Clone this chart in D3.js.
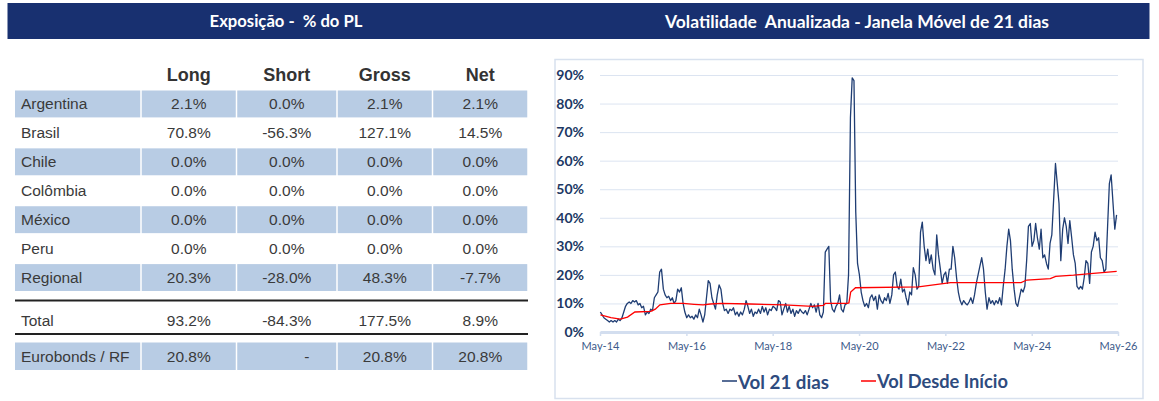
<!DOCTYPE html>
<html><head><meta charset="utf-8">
<script src="https://cdn.jsdelivr.net/npm/d3@7"></script>
<style>body{margin:0;background:#fff;overflow:hidden}</style>
</head><body><svg id="c" width="1159" height="401"></svg>
<script>
// ---------- DATA ----------
const leftTitle = "Exposição -  % do PL";
const rightTitle = "Volatilidade  Anualizada - Janela Móvel de 21 dias";
const tableColumns = ["Long", "Short", "Gross", "Net"];
const countries = ["Argentina", "Brasil", "Chile", "Colômbia", "México", "Peru", "Regional"];
const longVals  = [2.1, 70.8, 0.0, 0.0, 0.0, 0.0, 20.3];
const shortVals = [0.0, -56.3, 0.0, 0.0, 0.0, 0.0, -28.0];
const grossVals = [2.1, 127.1, 0.0, 0.0, 0.0, 0.0, 48.3];
const netVals   = [2.1, 14.5, 0.0, 0.0, 0.0, 0.0, -7.7];
const totalRow  = ["Total", 93.2, -84.3, 177.5, 8.9];
const euroRow   = ["Eurobonds / RF", 20.8, null, 20.8, 20.8];

const seriesNames = ["Vol 21 dias", "Vol Desde Início"];
const xTickYears = [2014, 2016, 2018, 2020, 2022, 2024, 2026];
const yTickValues = [0, 10, 20, 30, 40, 50, 60, 70, 80, 90];
// Vol 21 dias (%), semi-monthly readings starting May 2014
const volStart = "2014-05-04";
const vol21 = [
7,6,5,4.5,4,3.5,4,3.5,4,3.5,
4.5,4,5,7,9,10,10.5,10,11,10.5,
11,9.5,10,8.5,9,6,7,6.5,8,7.5,
12,13,14,21,22,15,13,12,12.5,11,
12,10,11,15,14,15.5,10,7,5,6,
5,5.5,4.5,6,5,8,6,3.5,6,12,
18,17,12,10,8,13,16.5,15,10,7.5,
8,6.5,8,7.5,8.5,6,7,5.5,7,6,
8,11,9,6.5,8,5.5,7,6.5,8,6.5,
9,7,8.5,6,8,7.5,9,8.5,7.5,11,
10.5,6,8,10,7,9,6.5,8,5.5,7.5,
6.5,8,7,6.5,7.5,6,8,10,8.5,9.5,
7,10,6,5,7,28,29,30,11,8,
7,9,10,13,8,7,9.5,10,20,75,
89,88,42,24,20,14,11,9,10,8.5,
12,13,11,12.5,8,13,11,10,12,11,
13.5,10,13,20,21,16,15,18.5,14,15,
12,9.5,14,13,22.5,20,15,16,35,38.5,
30,25,29,24,27,22,20,34,27,22,
17,20,21,17,22,22,30,26,19,14,
11,9.5,11,10,9.5,10.5,12,10,13,17,
20,23,26,22,14,8,12,10,11,9.5,
11,10,12,9.5,16,22,30,36,32,22,
15,10,9,12,15,14,16,25,37,38,
30,32,38,33,29,36,26,27,24,22,
31,34,46,59,52,45,25,36,40,37,
31,39,33,27,24,16,15,16,15,19,
25,24,17,28,30,35,32,33,26,25,
21,22,37,52,55,45,36,41
];
// Vol Desde Início (%)
const volInicioDates = ["2014-05-05","2014-08-01","2014-10-20","2014-12-20","2015-02-20","2015-07-05","2015-08-12","2015-09-20","2015-12-20","2016-04-05","2016-07-05","2016-09-20","2016-11-20","2017-02-20","2017-10-20","2018-08-05","2019-04-05","2019-07-05","2019-07-20","2019-11-20","2020-01-20","2020-02-05","2020-02-20","2020-04-01","2021-09-15","2022-06-15","2024-02-01","2024-03-20","2024-10-05","2024-11-20","2025-04-20","2025-10-05","2026-04-20"];
const volInicio = [6,5,4.5,5.2,7,7.2,8,9.5,10,10,9.7,9.5,9.8,10,9.8,9.5,9,9.3,10,10,10,10.2,14,15.5,15.8,17.3,17.3,18.2,18.7,19.5,19.9,20.5,21.2];

// ---------- DRAW ----------
const svg = d3.select("#c");
const NAVY = "#183070";
const LIGHT = "#B8CCE4";
const TXT = "#3a3a3a";

function fit(sel, w) {
  const cur = sel.node().getComputedTextLength();
  const fs = parseFloat(sel.style("font-size"));
  sel.style("font-size", (fs * w / cur) + "px");
}

// header bar
svg.append("rect").attr("x", 7.5).attr("y", 3).attr("width", 1142).attr("height", 36).attr("fill", NAVY);
const t1 = svg.append("text").attr("x", 286).attr("y", 21).attr("text-anchor", "middle").attr("dominant-baseline", "central")
  .style("white-space", "pre").style("font-family", "Lato").style("font-weight", "bold").style("font-size", "15px").attr("fill", "#fff").text(leftTitle);
fit(t1, 153);
const t2 = svg.append("text").attr("x", 857).attr("y", 21).attr("text-anchor", "middle").attr("dominant-baseline", "central")
  .style("white-space", "pre").style("font-family", "Lato").style("font-weight", "bold").style("font-size", "15px").attr("fill", "#fff").text(rightTitle);
fit(t2, 384);

// ---------- TABLE ----------
const colEdges = [15, 141, 236.5, 337, 432.5, 528];
const gap = 1.5;
const fmt = v => v == null ? "-" : v.toFixed(1) + "%";
const tbl = svg.append("g").style("font-family", "Liberation Sans, Arial, sans-serif");
const colCenter = k => (colEdges[k] + colEdges[k + 1]) / 2;

tableColumns.forEach((c, k) => {
  tbl.append("text").attr("x", colCenter(k + 1)).attr("y", 75).attr("text-anchor", "middle").attr("dominant-baseline", "central")
    .style("font-weight", "bold").style("font-size", "18px").attr("fill", "#333").text(c);
});

const rowY = d3.scaleBand().domain(countries).range([90.5, 291]).paddingInner(0.07);
const colsData = [longVals, shortVals, grossVals, netVals];

function drawRow(label, vals, top, h, filled, dashShift) {
  for (let k = 0; k < 5; k++) {
    if (filled) {
      tbl.append("rect").attr("x", colEdges[k] + (k ? gap / 2 : 0)).attr("y", top)
        .attr("width", colEdges[k + 1] - colEdges[k] - (k ? gap : gap / 2)).attr("height", h).attr("fill", LIGHT);
    }
  }
  tbl.append("text").attr("x", 21).attr("y", top + h / 2).attr("dominant-baseline", "central")
    .style("font-size", "15.5px").attr("fill", TXT).text(label);
  vals.forEach((v, k) => {
    tbl.append("text").attr("x", colCenter(k + 1) + (v == null ? dashShift : 0)).attr("y", top + h / 2)
      .attr("text-anchor", "middle").attr("dominant-baseline", "central")
      .style("font-size", "15.5px").attr("fill", TXT).text(fmt(v));
  });
}
countries.forEach((c, i) => {
  drawRow(c, colsData.map(a => a[i]), rowY(c), rowY.bandwidth(), i % 2 === 0, 0);
});
tbl.append("line").attr("x1", 15).attr("x2", 528).attr("y1", 300.5).attr("y2", 300.5).attr("stroke", "#222").attr("stroke-width", 1.8);
drawRow(totalRow[0], totalRow.slice(1), 306, 28, false, 0);
tbl.append("line").attr("x1", 15).attr("x2", 528).attr("y1", 334).attr("y2", 334).attr("stroke", "#222").attr("stroke-width", 1.8);
drawRow(euroRow[0], euroRow.slice(1), 342.5, 27.5, true, 20);

// ---------- CHART ----------
svg.append("rect").attr("x", 555).attr("y", 59.5).attr("width", 588).attr("height", 339)
  .attr("fill", "#fff").attr("stroke", "#D8E1EE").attr("stroke-width", 1.5);

const parse = d3.timeParse("%Y-%m-%d");
const x = d3.scaleTime().domain([new Date(2014, 4, 1), new Date(2026, 4, 1)]).range([600, 1118]);
const y = d3.scaleLinear().domain([0, 90]).range([332, 75]);

// gridlines
svg.append("g").attr("transform", "translate(600,0)")
  .call(d3.axisLeft(y).tickValues(yTickValues.slice(1)).tickSize(-518).tickFormat(""))
  .call(g => g.select(".domain").remove())
  .call(g => g.selectAll("line").attr("stroke", "#DCE4F1").attr("stroke-width", 1));

// y labels
svg.append("g").attr("transform", "translate(600,0)")
  .call(d3.axisLeft(y).tickValues(yTickValues).tickSize(0).tickPadding(16).tickFormat(d => d + "%"))
  .call(g => g.select(".domain").remove())
  .call(g => g.selectAll("text").style("font-family", "Lato").style("font-weight", "bold").style("font-size", "14px").attr("fill", "#203864"));

// x axis
svg.append("g").attr("transform", "translate(0,332)")
  .call(d3.axisBottom(x).tickValues(xTickYears.map(yr => new Date(yr, 4, 1))).tickSize(4).tickSizeOuter(0).tickPadding(6)
    .tickFormat(d3.timeFormat("%b-%y")))
  .call(g => g.select(".domain").attr("stroke", "#D3DEEF").attr("stroke-width", 3))
  .call(g => g.selectAll(".tick line").attr("stroke", "#D3DEEF").attr("stroke-width", 1.5))
  .call(g => g.selectAll("text").style("font-family", "Lato").style("font-size", "11px").attr("fill", "#3D5A8A"));

// lines
const start = parse(volStart);
const volData = vol21.map((v, i) => ({ d: d3.timeDay.offset(start, Math.round(i * 15.22)), v }));
const inicioData = volInicioDates.map((d, i) => ({ d: parse(d), v: volInicio[i] }));
const line = d3.line().x(p => x(p.d)).y(p => y(p.v));
svg.append("path").datum(volData).attr("d", line).attr("fill", "none").attr("stroke", "#1F3D73").attr("stroke-width", 1.3).attr("stroke-linejoin", "round");
svg.append("path").datum(inicioData).attr("d", line).attr("fill", "none").attr("stroke", "#FF0000").attr("stroke-width", 1.3);

// legend
const legColors = ["#1F3D73", "#FF0000"];
const legX = [722, 861];
const legW = [91, 131];
seriesNames.forEach((n, i) => {
  svg.append("line").attr("x1", legX[i]).attr("x2", legX[i] + 15).attr("y1", 381).attr("y2", 381).attr("stroke", legColors[i]).attr("stroke-width", 1.5);
  const t = svg.append("text").attr("x", legX[i] + 16).attr("y", 381).attr("dominant-baseline", "central")
    .style("font-family", "Lato").style("font-weight", "bold").style("font-size", "17px").attr("fill", "#2E4B7E").text(n);
  fit(t, legW[i]);
});
</script>
</body></html>
